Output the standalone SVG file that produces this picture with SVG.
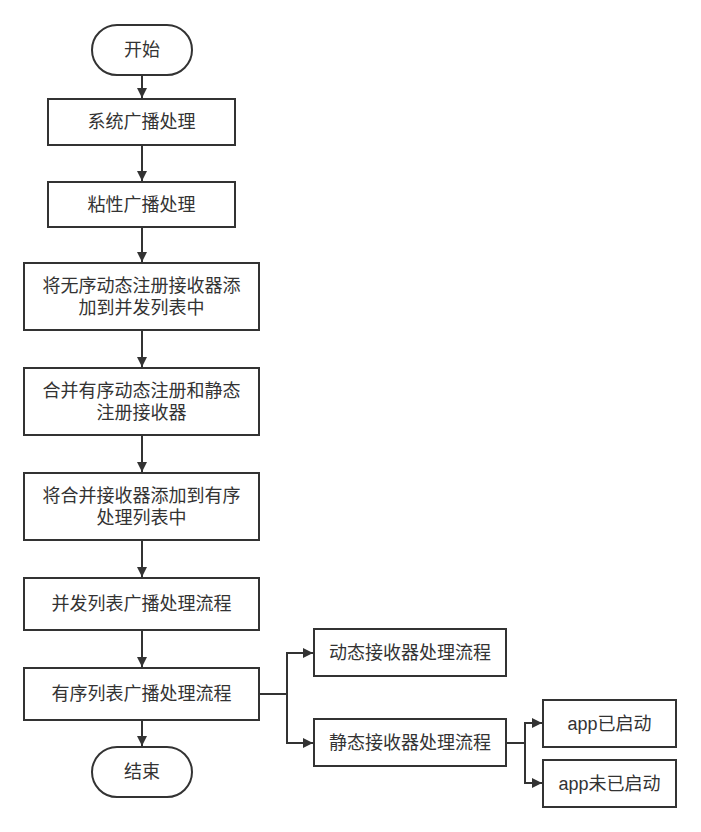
<svg xmlns="http://www.w3.org/2000/svg" width="701" height="832" viewBox="0 0 701 832">
<style>
.n{fill:#fff;stroke:#333;stroke-width:2}
.t{font-family:"Liberation Sans","Noto Sans CJK SC",sans-serif;font-size:18px;fill:#333;text-anchor:middle;dominant-baseline:central}
.c{fill:none;stroke:#333;stroke-width:2}
</style>
<defs>
<marker id="a" viewBox="0 0 10 10" refX="10" refY="5" markerWidth="10" markerHeight="10" markerUnits="userSpaceOnUse" orient="auto">
<path d="M0,0 L10,5 L0,10 Z" fill="#333"/>
</marker>
</defs>
<rect width="701" height="832" fill="#fff"/>
<g id="connectors">
<path class="c" d="M142,75 V98" marker-end="url(#a)"/>
<path class="c" d="M142,145 V181" marker-end="url(#a)"/>
<path class="c" d="M142,227 V262" marker-end="url(#a)"/>
<path class="c" d="M142,330 V367" marker-end="url(#a)"/>
<path class="c" d="M142,435 V472" marker-end="url(#a)"/>
<path class="c" d="M142,540 V577" marker-end="url(#a)"/>
<path class="c" d="M142,630 V667" marker-end="url(#a)"/>
<path class="c" d="M142,720 V746" marker-end="url(#a)"/>
<path class="c" d="M259,694 H287 V653 H313" marker-end="url(#a)"/>
<path class="c" d="M287,694 V743 H313" marker-end="url(#a)"/>
<path class="c" d="M506,743 H525 V723 H542" marker-end="url(#a)"/>
<path class="c" d="M525,743 V783 H542" marker-end="url(#a)"/>
</g>
<g id="start"><rect class="n" x="92" y="25" width="100" height="50" rx="25"/><text class="t" x="142" y="50">开始</text></g>
<g id="n1"><rect class="n" x="48" y="99" width="187" height="46"/><text class="t" x="141.5" y="122">系统广播处理</text></g>
<g id="n2"><rect class="n" x="48" y="182" width="187" height="45"/><text class="t" x="141.5" y="204.5">粘性广播处理</text></g>
<g id="n3"><rect class="n" x="24" y="263" width="235" height="67"/><text class="t" x="141.5" y="285.5">将无序动态注册接收器添</text><text class="t" x="141.5" y="307.5">加到并发列表中</text></g>
<g id="n4"><rect class="n" x="24" y="368" width="235" height="67"/><text class="t" x="141.5" y="390.5">合并有序动态注册和静态</text><text class="t" x="141.5" y="412.5">注册接收器</text></g>
<g id="n5"><rect class="n" x="24" y="473" width="235" height="67"/><text class="t" x="141.5" y="495.5">将合并接收器添加到有序</text><text class="t" x="141.5" y="517.5">处理列表中</text></g>
<g id="n6"><rect class="n" x="24" y="578" width="235" height="52"/><text class="t" x="141.5" y="604">并发列表广播处理流程</text></g>
<g id="n7"><rect class="n" x="24" y="668" width="235" height="52"/><text class="t" x="141.5" y="694">有序列表广播处理流程</text></g>
<g id="end"><rect class="n" x="92" y="747" width="100" height="50" rx="25"/><text class="t" x="142" y="772">结束</text></g>
<g id="dyn"><rect class="n" x="314" y="629" width="192" height="47"/><text class="t" x="410" y="652.5">动态接收器处理流程</text></g>
<g id="sta"><rect class="n" x="314" y="719" width="192" height="47"/><text class="t" x="410" y="742.5">静态接收器处理流程</text></g>
<g id="app1"><rect class="n" x="543" y="700" width="133" height="47"/><text class="t" x="609.5" y="723.5">app已启动</text></g>
<g id="app2"><rect class="n" x="543" y="760" width="133" height="47"/><text class="t" x="609.5" y="783.5">app未已启动</text></g>
</svg>
